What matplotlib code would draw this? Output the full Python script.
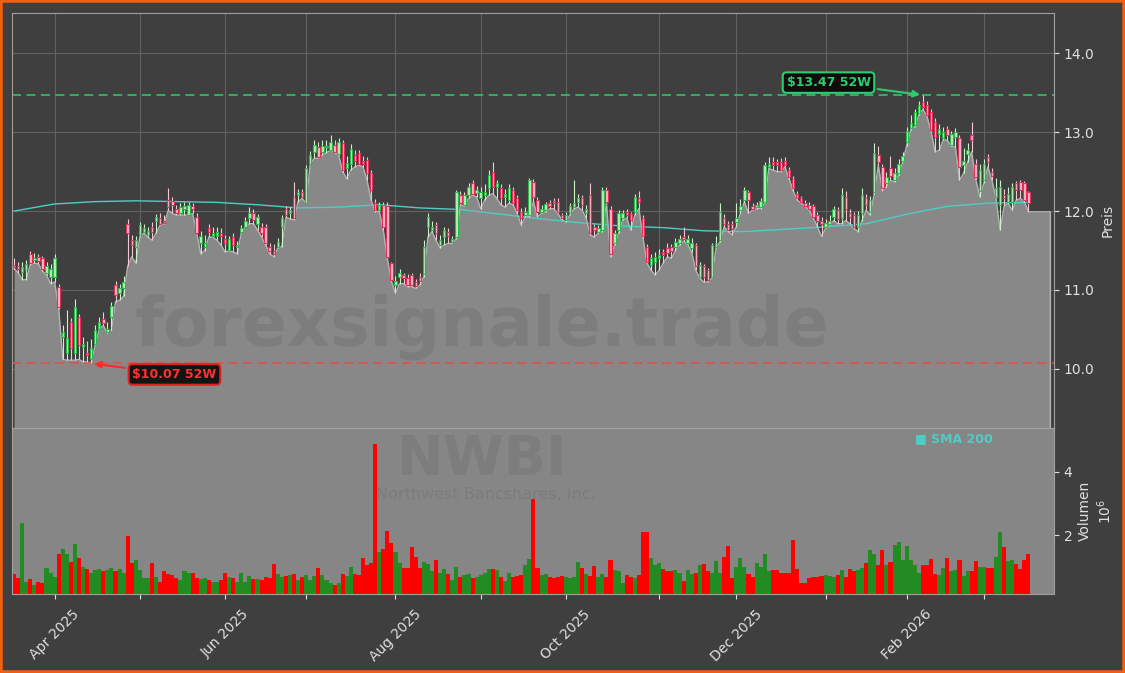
import numpy as np
import pandas as pd
import matplotlib.pyplot as plt
from matplotlib.patches import Rectangle

# ---------------- datos (NWBI, velas diarias, volumen en millones) ----------------
start_date = "2025-03-18"
end_date = "2026-03-17"
holidays = ["2025-04-18", "2025-05-26", "2025-06-19", "2025-07-04", "2025-09-01",
            "2025-11-27", "2025-12-25", "2026-01-01", "2026-01-19", "2026-02-16"]

opens = [
    11.32, 11.30, 11.23, 11.25, 11.46, 11.38, 11.42, 11.40, 11.21, 11.17,
    11.17, 11.04, 10.41, 10.20, 10.60, 10.20, 10.66, 10.28, 10.20, 10.12,
    10.32, 10.51, 10.63, 10.47, 10.66, 11.06, 10.96, 11.02, 11.84, 11.63,
    11.55, 11.70, 11.74, 11.70, 11.80, 11.88, 11.91, 11.88, 12.14, 12.13,
    12.02, 11.97, 12.02, 11.95, 12.06, 11.93, 11.59, 11.55, 11.78, 11.68,
    11.68, 11.72, 11.65, 11.51, 11.67, 11.55, 11.74, 11.80, 11.91, 11.97,
    11.84, 11.80, 11.80, 11.55, 11.50, 11.55, 11.80, 12.03, 11.97, 12.18,
    12.20, 12.24, 12.10, 12.60, 12.75, 12.81, 12.75, 12.81, 12.78, 12.84,
    12.72, 12.86, 12.55, 12.60, 12.71, 12.73, 12.64, 12.65, 12.48, 12.10,
    12.01, 12.08, 12.06, 11.34, 11.06, 11.17, 11.19, 11.15, 11.19, 11.10,
    11.17, 11.20, 11.80, 11.76, 11.82, 11.57, 11.67, 11.74, 11.61, 11.67,
    12.20, 12.08, 12.20, 12.36, 12.23, 12.16, 12.20, 12.29, 12.50, 12.31,
    12.29, 12.18, 12.14, 12.27, 12.16, 11.99, 11.95, 11.95, 12.37, 12.14,
    11.99, 12.01, 12.10, 12.13, 12.12, 11.95, 11.89, 11.97, 12.05, 12.12,
    12.16, 11.97, 12.20, 11.80, 11.74, 11.76, 12.27, 12.03, 11.59, 11.76,
    11.91, 11.99, 11.96, 11.99, 12.16, 11.91, 11.55, 11.32, 11.36, 11.40,
    11.48, 11.53, 11.55, 11.55, 11.60, 11.67, 11.60, 11.53, 11.57, 11.17,
    11.30, 11.25, 11.17, 11.55, 11.63, 11.91, 11.84, 11.84, 11.86, 12.01,
    12.14, 12.24, 12.06, 12.05, 12.05, 12.12, 12.56, 12.62, 12.62, 12.62,
    12.64, 12.52, 12.41, 12.22, 12.16, 12.10, 12.08, 12.06, 11.95, 11.87,
    11.80, 11.84, 11.93, 12.01, 11.91, 12.18, 11.98, 11.95, 11.80, 11.97,
    12.16, 11.99, 12.24, 12.71, 12.56, 12.35, 12.54, 12.39, 12.48, 12.64,
    12.88, 13.05, 13.09, 13.24, 13.38, 13.34, 13.26, 13.13, 12.98, 12.92,
    13.04, 12.84, 12.94, 12.92, 12.58, 12.72, 12.96, 12.60, 12.26, 12.39,
    12.69, 12.50, 12.18, 12.08, 12.20, 12.12, 12.12, 12.35, 12.37, 12.35,
    12.24,
]
highs = [
    11.40, 11.36, 11.36, 11.38, 11.49, 11.47, 11.45, 11.43, 11.36, 11.33,
    11.45, 11.08, 10.55, 10.75, 10.65, 10.88, 10.70, 10.40, 10.35, 10.38,
    10.55, 10.66, 10.72, 10.60, 10.85, 11.12, 11.08, 11.18, 11.90, 11.70,
    11.68, 11.86, 11.84, 11.80, 11.86, 11.96, 11.98, 11.95, 12.29, 12.18,
    12.08, 12.10, 12.12, 12.12, 12.10, 11.98, 11.75, 11.70, 11.84, 11.80,
    11.80, 11.78, 11.70, 11.68, 11.72, 11.62, 11.82, 11.92, 12.05, 12.02,
    11.96, 11.85, 11.84, 11.60, 11.58, 11.66, 11.95, 12.07, 12.05, 12.37,
    12.28, 12.28, 12.58, 12.76, 12.90, 12.88, 12.90, 12.90, 12.96, 12.90,
    12.93, 12.90, 12.70, 12.85, 12.78, 12.78, 12.70, 12.68, 12.52, 12.15,
    12.12, 12.12, 12.12, 11.36, 11.18, 11.26, 11.22, 11.20, 11.22, 11.14,
    11.22, 11.63, 11.98, 11.88, 11.86, 11.70, 11.80, 11.78, 11.68, 12.27,
    12.25, 12.24, 12.35, 12.40, 12.32, 12.30, 12.34, 12.52, 12.62, 12.40,
    12.34, 12.28, 12.34, 12.31, 12.20, 12.04, 12.05, 12.42, 12.41, 12.18,
    12.08, 12.12, 12.14, 12.17, 12.16, 11.98, 11.99, 12.10, 12.39, 12.22,
    12.20, 12.08, 12.35, 11.84, 11.82, 12.30, 12.30, 12.06, 11.76, 12.01,
    12.01, 12.03, 11.99, 12.22, 12.26, 11.95, 11.58, 11.45, 11.48, 11.52,
    11.52, 11.60, 11.58, 11.66, 11.70, 11.80, 11.70, 11.66, 11.60, 11.36,
    11.33, 11.28, 11.60, 11.68, 12.10, 11.96, 11.88, 11.88, 12.10, 12.15,
    12.31, 12.27, 12.10, 12.12, 12.16, 12.62, 12.68, 12.68, 12.66, 12.67,
    12.68, 12.56, 12.44, 12.26, 12.19, 12.14, 12.12, 12.09, 11.99, 11.92,
    11.90, 11.95, 12.07, 12.05, 12.29, 12.25, 12.02, 11.99, 12.00, 12.29,
    12.22, 12.19, 12.86, 12.82, 12.60, 12.50, 12.70, 12.55, 12.66, 12.75,
    13.06, 13.22, 13.30, 13.40, 13.47, 13.40, 13.30, 13.18, 13.10, 13.06,
    13.08, 13.02, 13.05, 12.97, 12.80, 12.86, 13.13, 12.66, 12.60, 12.66,
    12.72, 12.54, 12.42, 12.40, 12.28, 12.30, 12.36, 12.38, 12.40, 12.38,
    12.26,
]
lows = [
    11.27, 11.22, 11.13, 11.13, 11.32, 11.34, 11.33, 11.24, 11.19, 11.08,
    11.10, 10.76, 10.12, 10.11, 10.11, 10.11, 10.12, 10.09, 10.09, 10.07,
    10.30, 10.50, 10.55, 10.45, 10.49, 10.85, 10.87, 10.92, 11.30, 11.42,
    11.34, 11.67, 11.72, 11.67, 11.63, 11.72, 11.82, 11.84, 12.01, 11.97,
    11.95, 11.95, 11.95, 11.95, 11.97, 11.72, 11.46, 11.50, 11.67, 11.67,
    11.63, 11.57, 11.48, 11.50, 11.48, 11.46, 11.72, 11.80, 11.84, 11.84,
    11.76, 11.67, 11.57, 11.46, 11.42, 11.53, 11.55, 11.92, 11.90, 11.89,
    12.12, 12.16, 12.10, 12.60, 12.67, 12.67, 12.71, 12.74, 12.77, 12.74,
    12.71, 12.50, 12.41, 12.52, 12.56, 12.58, 12.56, 12.39, 12.14, 11.99,
    12.00, 11.76, 11.40, 11.11, 10.96, 11.08, 11.08, 11.04, 11.04, 11.02,
    11.06, 11.17, 11.67, 11.74, 11.63, 11.53, 11.57, 11.59, 11.59, 11.65,
    12.08, 12.06, 12.16, 12.20, 12.18, 12.03, 12.14, 12.20, 12.22, 12.16,
    12.08, 12.05, 12.10, 12.08, 11.97, 11.82, 11.93, 11.93, 12.12, 11.93,
    11.97, 11.99, 12.03, 12.03, 11.97, 11.89, 11.86, 11.95, 12.03, 12.05,
    12.01, 11.91, 11.70, 11.67, 11.72, 11.74, 12.10, 11.42, 11.57, 11.72,
    11.89, 11.91, 11.76, 11.95, 12.03, 11.66, 11.34, 11.25, 11.19, 11.25,
    11.34, 11.42, 11.40, 11.50, 11.57, 11.62, 11.58, 11.48, 11.25, 11.15,
    11.10, 11.10, 11.15, 11.53, 11.61, 11.80, 11.74, 11.70, 11.80, 11.97,
    12.12, 11.97, 12.01, 12.03, 12.03, 12.10, 12.54, 12.52, 12.50, 12.50,
    12.56, 12.41, 12.26, 12.14, 12.10, 12.06, 12.01, 11.91, 11.80, 11.68,
    11.78, 11.82, 11.88, 11.84, 11.84, 11.88, 11.84, 11.78, 11.74, 11.88,
    12.01, 11.95, 12.22, 12.58, 12.26, 12.31, 12.39, 12.37, 12.46, 12.62,
    12.83, 13.03, 13.07, 13.22, 13.29, 13.20, 13.01, 12.75, 12.77, 12.90,
    12.90, 12.82, 12.81, 12.39, 12.48, 12.62, 12.75, 12.41, 12.18, 12.35,
    12.56, 12.39, 12.16, 11.76, 12.06, 12.10, 12.01, 12.14, 12.16, 12.12,
    11.99,
]
closes = [
    11.29, 11.26, 11.29, 11.33, 11.34, 11.40, 11.37, 11.26, 11.31, 11.27,
    11.40, 10.79, 10.47, 10.39, 10.26, 10.79, 10.30, 10.32, 10.17, 10.26,
    10.49, 10.60, 10.58, 10.51, 10.80, 10.94, 11.02, 11.10, 11.72, 11.57,
    11.63, 11.82, 11.78, 11.75, 11.74, 11.92, 11.84, 11.85, 12.05, 12.08,
    11.98, 12.05, 12.06, 12.08, 12.03, 11.72, 11.68, 11.60, 11.74, 11.72,
    11.74, 11.69, 11.59, 11.65, 11.57, 11.57, 11.78, 11.88, 11.97, 11.89,
    11.92, 11.72, 11.59, 11.49, 11.45, 11.61, 11.91, 11.95, 12.01, 11.91,
    12.24, 12.18, 12.54, 12.71, 12.84, 12.69, 12.82, 12.83, 12.88, 12.75,
    12.88, 12.52, 12.61, 12.79, 12.63, 12.60, 12.60, 12.48, 12.27, 12.01,
    12.08, 11.80, 11.42, 11.13, 11.12, 11.21, 11.15, 11.06, 11.06, 11.05,
    11.12, 11.55, 11.93, 11.80, 11.72, 11.63, 11.76, 11.68, 11.65, 12.24,
    12.10, 12.20, 12.31, 12.22, 12.27, 12.24, 12.24, 12.46, 12.31, 12.35,
    12.16, 12.22, 12.29, 12.10, 12.01, 11.91, 11.99, 12.39, 12.18, 11.99,
    12.03, 12.09, 12.06, 12.10, 11.99, 11.91, 11.95, 12.07, 12.10, 12.16,
    12.08, 12.03, 11.72, 11.76, 11.78, 12.27, 12.12, 11.46, 11.72, 11.97,
    11.97, 11.95, 11.89, 12.18, 12.12, 11.68, 11.36, 11.40, 11.42, 11.44,
    11.44, 11.47, 11.50, 11.61, 11.64, 11.64, 11.64, 11.60, 11.30, 11.32,
    11.17, 11.13, 11.57, 11.59, 11.99, 11.84, 11.76, 11.77, 11.91, 12.06,
    12.27, 12.14, 12.03, 12.08, 12.13, 12.58, 12.60, 12.58, 12.59, 12.52,
    12.58, 12.43, 12.29, 12.16, 12.12, 12.07, 12.03, 11.92, 11.88, 11.83,
    11.85, 11.88, 12.03, 11.90, 12.20, 12.03, 11.93, 11.80, 11.95, 12.20,
    12.08, 12.14, 12.73, 12.62, 12.29, 12.43, 12.44, 12.48, 12.60, 12.70,
    13.02, 13.12, 13.26, 13.34, 13.32, 13.22, 13.03, 12.94, 13.04, 13.00,
    12.96, 12.98, 13.00, 12.56, 12.63, 12.78, 12.90, 12.43, 12.52, 12.60,
    12.62, 12.45, 12.29, 12.31, 12.16, 12.22, 12.31, 12.27, 12.27, 12.14,
    12.10,
]
volumes = [
    0.78, 0.65, 2.37, 0.54, 0.62, 0.44, 0.54, 0.50, 0.96, 0.80,
    0.70, 1.41, 1.55, 1.41, 1.17, 1.71, 1.27, 1.00, 0.93, 0.80,
    0.91, 0.93, 0.86, 0.91, 0.96, 0.86, 0.93, 0.82, 1.97, 1.11,
    1.22, 0.91, 0.65, 0.65, 1.11, 0.70, 0.54, 0.86, 0.78, 0.75,
    0.65, 0.59, 0.86, 0.80, 0.82, 0.65, 0.61, 0.65, 0.59, 0.54,
    0.54, 0.59, 0.80, 0.70, 0.65, 0.54, 0.80, 0.54, 0.72, 0.61,
    0.61, 0.59, 0.70, 0.65, 1.09, 0.78, 0.70, 0.72, 0.75, 0.78,
    0.59, 0.70, 0.75, 0.59, 0.72, 0.96, 0.75, 0.59, 0.49, 0.44,
    0.49, 0.78, 0.72, 1.00, 0.78, 0.75, 1.27, 1.06, 1.11, 4.88,
    1.48, 1.55, 2.13, 1.74, 1.48, 1.11, 0.96, 0.96, 1.64, 1.30,
    0.96, 1.15, 1.09, 0.86, 1.22, 0.80, 0.93, 0.78, 0.59, 1.00,
    0.70, 0.75, 0.78, 0.65, 0.70, 0.75, 0.80, 0.93, 0.93, 0.89,
    0.70, 0.57, 0.82, 0.70, 0.72, 0.75, 1.06, 1.24, 3.15, 0.96,
    0.75, 0.78, 0.70, 0.65, 0.70, 0.72, 0.68, 0.65, 0.70, 1.17,
    0.96, 0.78, 0.72, 1.03, 0.70, 0.78, 0.70, 1.22, 0.91, 0.86,
    0.51, 0.75, 0.68, 0.65, 0.75, 2.10, 2.10, 1.27, 1.06, 1.11,
    0.93, 0.86, 0.86, 0.89, 0.80, 0.57, 0.89, 0.78, 0.80, 1.06,
    1.09, 0.86, 0.80, 1.20, 0.80, 1.32, 1.66, 0.65, 1.00, 1.27,
    1.00, 0.78, 0.70, 1.14, 1.00, 1.41, 0.86, 0.91, 0.89, 0.82,
    0.80, 0.80, 1.85, 0.93, 0.51, 0.51, 0.65, 0.68, 0.70, 0.72,
    0.75, 0.73, 0.70, 0.75, 0.91, 0.70, 0.93, 0.86, 0.89, 0.96,
    1.12, 1.53, 1.41, 1.06, 1.53, 1.06, 1.17, 1.69, 1.79, 1.22,
    1.66, 1.22, 1.06, 0.80, 1.06, 1.06, 1.24, 0.78, 0.75, 0.96,
    1.27, 0.86, 0.89, 1.22, 0.72, 0.86, 0.86, 1.20, 0.99, 0.99,
    0.96, 0.96, 1.30, 2.09, 1.64, 1.20, 1.22, 1.09, 0.93, 1.22,
    1.41,
]
# SMA 200 leida cada 10 velas
sma_bars = list(range(0, 251, 10))
sma_200 = [12.00, 12.09, 12.12, 12.13, 12.12, 12.11, 12.08, 12.04, 12.05, 12.08,
           12.04, 12.02, 11.96, 11.90, 11.85, 11.81, 11.79, 11.75, 11.74, 11.77,
           11.80, 11.84, 11.96, 12.06, 12.10, 12.11]

# ---------------- estilo ----------------
BG = "#3f3f3f"
FILL = "#888888"
UP_FACE, UP_EDGE = "#b8ecb8", "#2bb84a"
DOWN_FACE, DOWN_EDGE = "#ffb6c6", "#e0305a"
TXT = "#e0e0e0"

n = len(closes)
o = np.array(opens)
h = np.array(highs)
lo = np.array(lows)
c = np.array(closes)
idx = np.arange(n)
dates = pd.bdate_range(start_date, end_date, freq="C", holidays=holidays)[:n]

y_min, y_max = 9.25, 14.51
x_left, x_right = -0.5, 256.3
fill_end = 255.4

fig = plt.figure(figsize=(11.25, 6.73), dpi=100, facecolor=BG)
ax = fig.add_axes([0.0107, 0.364, 0.9262, 0.6166], facecolor=BG)
axv = fig.add_axes([0.0107, 0.1174, 0.9262, 0.2466], facecolor="#868686", sharex=ax)

# area gris bajo los minimos
xf = np.append(idx, fill_end)
lf = np.append(lo, lo[-1])
ax.fill_between(xf, lf, y_min, color=FILL, lw=0, zorder=1)
ax.plot(np.append(xf, fill_end), np.append(lf, y_min), color="#b4b4b4", lw=1, zorder=1.5)

ax.text(0.451, 0.243, "forexsignale.trade", transform=ax.transAxes, fontsize=48,
        fontweight="bold", color="#5a5a5a", alpha=0.22, ha="center", va="center", zorder=2)

# SMA 200
ax.plot(sma_bars, sma_200, color="#4ecdc4", lw=1.0, zorder=3)

# velas
up = c >= o
body_lo = np.minimum(o, c)
body_h = np.maximum(np.abs(c - o), 0.012)
wick_colors = np.where(up, "#c9f2c9", "#f5c6d0")
ax.vlines(idx, lo, h, colors=wick_colors, lw=0.8, zorder=3.5)
ax.bar(idx[up], body_h[up], bottom=body_lo[up], width=0.6, color=UP_FACE,
       edgecolor=UP_EDGE, lw=0.8, zorder=4)
ax.bar(idx[~up], body_h[~up], bottom=body_lo[~up], width=0.6, color=DOWN_FACE,
       edgecolor=DOWN_EDGE, lw=0.8, zorder=4)

# maximo / minimo 52 semanas
i_hi = int(np.argmax(h))
i_lo = int(np.argmin(lo))
hi52 = h[i_hi]
lo52 = lo[i_lo]
ax.axhline(hi52, color="#2ecc71", ls=(0, (5, 3)), lw=1.3, alpha=0.85, zorder=2.5)
ax.axhline(lo52, color="#e74c3c", ls=(0, (5, 3)), lw=1.3, alpha=0.85, zorder=2.5)
ax.annotate(f"${hi52:.2f} 52W", xy=(i_hi, hi52), xytext=(-68, 9), textcoords="offset points",
            ha="center", va="center", fontsize=9, fontweight="bold", color="#2ecc71",
            bbox=dict(boxstyle="round,pad=0.3", fc="#0d0d0d", ec="#2ecc71", lw=1.5),
            arrowprops=dict(arrowstyle="-|>", color="#2ecc71", lw=1.5, mutation_scale=10),
            zorder=6)
ax.annotate(f"${lo52:.2f} 52W", xy=(i_lo, lo52), xytext=(60, -8), textcoords="offset points",
            ha="center", va="center", fontsize=9, fontweight="bold", color="#ff3030",
            bbox=dict(boxstyle="round,pad=0.3", fc="#141414", ec="#e02020", lw=1.5),
            arrowprops=dict(arrowstyle="-|>", color="#ff2a2a", lw=1.5, mutation_scale=10),
            zorder=6)

ax.set_xlim(x_left, x_right)
ax.set_ylim(y_min, y_max)
ax.set_yticks([10, 11, 12, 13, 14])
ax.set_yticklabels([f"{v:.1f}" for v in [10, 11, 12, 13, 14]])
ax.yaxis.tick_right()
ax.yaxis.set_label_position("right")
ax.set_ylabel("Preis", color=TXT, fontsize=10)
ax.grid(True, color="#626262", lw=0.8)
ax.set_axisbelow(True)
ax.tick_params(axis="x", length=0, labelbottom=False)
ax.tick_params(axis="y", colors=TXT, labelsize=10)

# volumen
vol_colors = np.where(up, "forestgreen", "red")
axv.bar(idx, volumes, width=1.0, color=vol_colors, lw=0, zorder=2)
axv.set_ylim(0.15, 5.37)
axv.set_yticks([2, 4])
axv.yaxis.tick_right()
axv.yaxis.set_label_position("right")
axv.set_ylabel("Volumen\n$10^6$", color=TXT, fontsize=10)
axv.tick_params(axis="y", colors=TXT, labelsize=10)
axv.text(0.451, 0.81, "NWBI", transform=axv.transAxes, fontsize=40, fontweight="bold",
         color="#5a5a5a", alpha=0.2, ha="center", va="center", zorder=1)
axv.text(0.455, 0.60, "Northwest Bancshares, Inc.", transform=axv.transAxes, fontsize=11.5,
         color="#5a5a5a", alpha=0.22, ha="center", va="center", zorder=1)

# ticks mensuales, etiqueta cada dos meses
month_start = [i for i in range(1, n) if dates[i].month != dates[i - 1].month]
month_labels = [dates[i].strftime("%b %Y") if dates[i].month % 2 == 0 else "" for i in month_start]
axv.set_xticks(month_start)
axv.set_xticklabels(month_labels, rotation=45)
axv.tick_params(axis="x", colors=TXT, labelsize=10, pad=6)
ax.set_xticks(month_start)

for a in (ax, axv):
    for sp in a.spines.values():
        sp.set_color("#a0a0a0")

fig.text(0.8133, 0.3477, "■ SMA 200", color="#4ecdc4", fontsize=9, fontweight="bold",
         ha="left", va="center")

fig.patches.append(Rectangle((0, 0), 1, 1, transform=fig.transFigure, fill=False,
                             edgecolor="#f06010", lw=4))

plt.savefig("out.png", dpi=100, facecolor=BG)
print("listo: out.png")
